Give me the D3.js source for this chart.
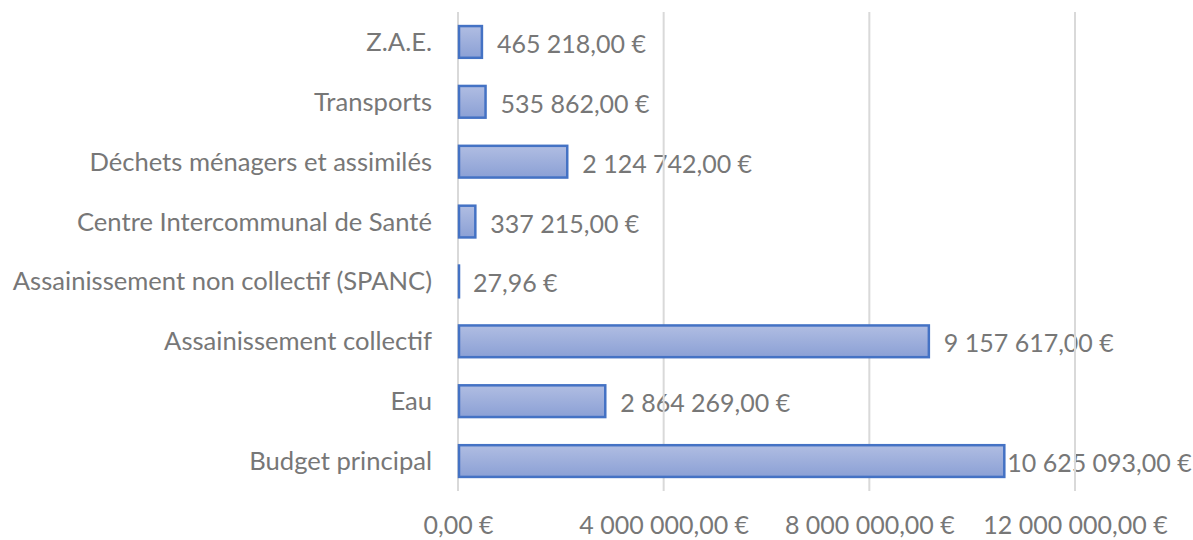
<!DOCTYPE html>
<html>
<head>
<meta charset="utf-8">
<script src="https://cdn.jsdelivr.net/npm/d3@7"></script>
<style>
  html, body { margin: 0; padding: 0; background: #fff; }
  svg { display: block; }
  text { font-family: Lato, "Open Sans", sans-serif; fill: #777777; }
</style>
</head>
<body>
<svg id="chart" width="1193" height="540"></svg>
<script>
// Budget lines, top to bottom
const categories = [
  "Z.A.E.",
  "Transports",
  "Déchets ménagers et assimilés",
  "Centre Intercommunal de Santé",
  "Assainissement non collectif (SPANC)",
  "Assainissement collectif",
  "Eau",
  "Budget principal"
];
const amounts = [465218, 535862, 2124742, 337215, 27.96, 9157617, 2864269, 10625093];
const tickValues = [0, 4000000, 8000000, 12000000];

const W = 1193, H = 540;
const margin = { left: 458, right: 1193 - 1075, top: 12, bottom: 540 - 491 };
const FONT = 25;
const CAT_FONT = 25.6;

const svg = d3.select("#chart");

const fmtNum = d3.formatLocale({ decimal: ",", thousands: " ", grouping: [3], currency: ["", " €"] }).format(",.2f");
const euro = v => fmtNum(v) + " €";

const x = d3.scaleLinear().domain([0, 12000000]).range([margin.left, W - margin.right]);
const y = d3.scaleBand().domain(categories).range([margin.top, H - margin.bottom]).paddingInner(0.47).paddingOuter(0.235);

const defs = svg.append("defs");
const grad = defs.append("linearGradient").attr("id", "barFill").attr("x1", 0).attr("y1", 0).attr("x2", 0).attr("y2", 1);
grad.append("stop").attr("offset", "0%").attr("stop-color", "#b0bde2");
grad.append("stop").attr("offset", "100%").attr("stop-color", "#8ba0d5");

// value labels (drawn first, gridlines sit on top of them)
const labels = svg.append("g")
  .selectAll("text")
  .data(categories)
  .join("text")
  .attr("font-size", FONT)
  .attr("dominant-baseline", "central")
  .attr("y", d => y(d) + y.bandwidth() / 2 + 1)
  .text((d, i) => euro(amounts[i]));
labels.attr("x", function (d, i) {
  const w = this.getComputedTextLength();
  const end = x(amounts[i]);
  return Math.max(end + 3, Math.min(end + 15, W - 5 - w));
});

// vertical gridlines
svg.append("g")
  .selectAll("line")
  .data(tickValues)
  .join("line")
  .attr("x1", d => x(d)).attr("x2", d => x(d))
  .attr("y1", margin.top).attr("y2", H - margin.bottom)
  .attr("stroke", "#d9d9d9").attr("stroke-width", 2);

// bottom axis labels
const xAxis = d3.axisBottom(x).tickValues(tickValues).tickSize(0).tickPadding(0).tickFormat(euro);
const gx = svg.append("g").attr("transform", `translate(0,${H - margin.bottom})`).call(xAxis);
gx.select(".domain").remove();
gx.selectAll("text").attr("font-size", FONT).attr("dy", null).attr("y", 43)
  .style("font-family", "Lato, 'Open Sans', sans-serif").attr("fill", "#777777");

// category labels
const yAxis = d3.axisLeft(y).tickSize(0).tickPadding(26);
const gy = svg.append("g").attr("transform", `translate(${margin.left},0)`).call(yAxis);
gy.select(".domain").remove();
gy.selectAll("text").attr("font-size", CAT_FONT).attr("dy", "0.35em")
  .style("font-family", "Lato, 'Open Sans', sans-serif").attr("fill", "#777777");

// bars
svg.append("g")
  .selectAll("rect")
  .data(categories)
  .join("rect")
  .attr("x", x(0) + 1)
  .attr("y", d => y(d))
  .attr("width", (d, i) => Math.max(0.01, x(amounts[i]) - x(0) - 1))
  .attr("height", y.bandwidth())
  .attr("fill", "url(#barFill)")
  .attr("stroke", "#4472c4")
  .attr("stroke-width", 2.5);
</script>
</body>
</html>
